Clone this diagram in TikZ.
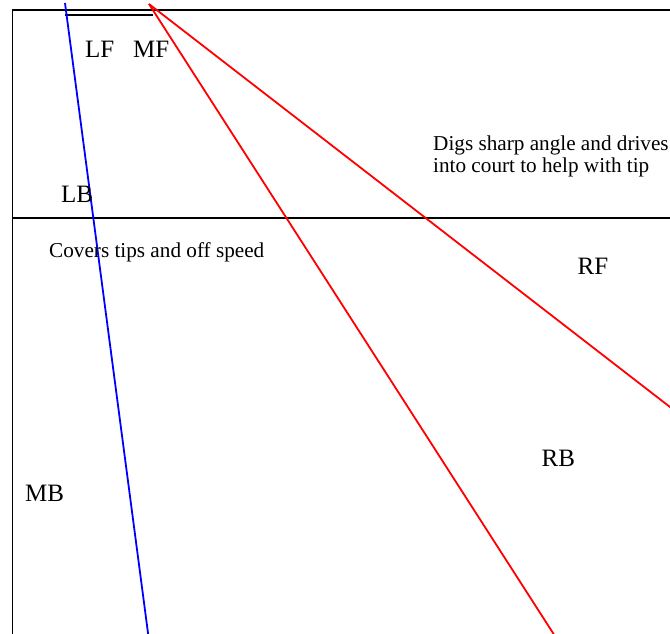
\documentclass[tikz,border=0pt]{standalone}
\usepackage{fontspec}
\setmainfont{Liberation Serif}
\usetikzlibrary{calc}
\begin{document}
\begin{tikzpicture}[x=1pt,y=-1pt,
  player/.style={anchor=base west,inner sep=0pt,font=\fontsize{25}{30}\selectfont},
  note/.style={anchor=base west,inner sep=0pt,align=left,font=\fontsize{21.2}{22}\selectfont},
  court/.style={draw=black,line width=1.8pt},
  path1/.style={draw=blue,line width=1.8pt},
  path2/.style={draw=red,line width=1.8pt}]
\useasboundingbox (0,0) rectangle (670,633);
\clip (0,0) rectangle (670,633);
% court outline and attack line
\coordinate (tl) at (12.5,10);
\coordinate (tr) at (700,10);
\coordinate (bl) at (12.5,660);
\coordinate (ml) at (12.5,218);
\coordinate (mr) at (700,218);
\draw[court] (bl) -- (tl) -- (tr);
\draw[court] (ml) -- (mr);
% net segment
\coordinate (n1) at (65,15);
\coordinate (n2) at (153,15);
\draw[draw=black,line width=2.8pt] (n1) -- (n2);
% attack paths
\coordinate (b0) at (65,3);
\coordinate (b1) at (148,633);
\draw[path1] (b0) -- ($(b0)!1.05!(b1)$);
\coordinate (r0) at (149,4);
\coordinate (r1) at (670,407);
\coordinate (r2) at (553,633);
\draw[path2] (r0) -- ($(r0)!1.05!(r1)$);
\draw[path2] (r0) -- ($(r0)!1.05!(r2)$);
% player positions
\node[player] (lf) at (85,57.7) {LF};
\node[player] (mf) at (133,57.7) {MF};
\node[player] (lb) at (61,202.7) {LB};
\node[player] (rf) at (577.5,274) {RF};
\node[player] (rb) at (541.5,466) {RB};
\node[player] (mb) at (25,501) {MB};
% notes
\node[note] (n-dig) at (433,172) {Digs sharp angle and drives\\into court to help with tip};
\node[note] (n-cov) at (49,257) {Covers tips and off speed};
\end{tikzpicture}
\end{document}
